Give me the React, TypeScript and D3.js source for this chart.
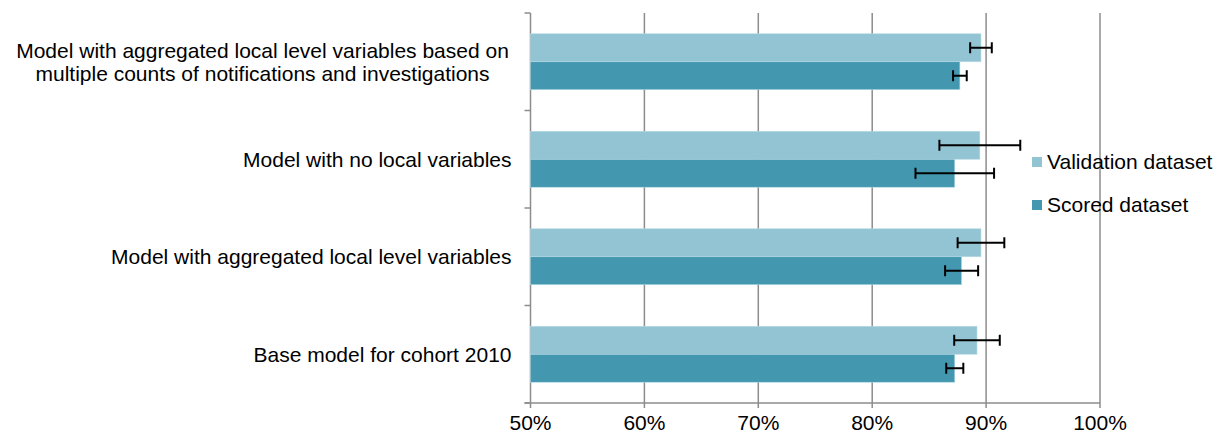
import React from 'react';
import * as d3 from 'd3';

const categories = [
  'Model with aggregated local level variables based on|multiple counts of notifications and investigations',
  'Model with no local variables',
  'Model with aggregated local level variables',
  'Base model for cohort 2010',
];
const validation = [89.55, 89.45, 89.55, 89.2];
const validationErr = [0.95, 3.55, 2.05, 2.0];
const scored = [87.7, 87.25, 87.85, 87.25];
const scoredErr = [0.6, 3.45, 1.45, 0.75];
const xTicks = [50, 60, 70, 80, 90, 100];
const seriesNames = ['Validation dataset', 'Scored dataset'];
const colors = ['#93c4d4', '#4398b0'];

const W = 1228;
const H = 439;
const margin = { top: 13, right: 128, bottom: 36, left: 530.5 };
const font = 'Arial, "Liberation Sans", sans-serif';
const fs = 21;

export default function App() {
  const innerW = W - margin.left - margin.right;
  const innerH = H - margin.top - margin.bottom;
  const x = d3.scaleLinear().domain([50, 100]).range([0, innerW]);
  const y = d3.scaleBand<number>().domain(d3.range(categories.length)).range([0, innerH]).paddingInner(0.426).paddingOuter(0.213);
  const sub = d3.scaleBand<number>().domain([0, 1]).range([0, y.bandwidth()]);
  const series = [
    { vals: validation, errs: validationErr },
    { vals: scored, errs: scoredErr },
  ];
  const step = innerH / categories.length;
  const gridColor = '#8c8c8c';

  return (
    <svg width={W} height={H} style={{ position: 'absolute', left: 0, top: 0 }} fontFamily={font}>
      <g transform={`translate(${margin.left},${margin.top})`}>
        {xTicks.slice(1).map((t) => (
          <line key={t} x1={x(t)} x2={x(t)} y1={0} y2={innerH + 5} stroke={gridColor} strokeWidth={1.5} />
        ))}
        <line x1={x(50)} x2={x(50)} y1={0} y2={innerH + 5} stroke={gridColor} strokeWidth={1.5} />
        <line x1={-6} x2={x(100)} y1={innerH} y2={innerH} stroke={gridColor} strokeWidth={1.5} />
        {d3.range(categories.length + 1).map((i) => (
          <line key={i} x1={-6} x2={0} y1={i * step} y2={i * step} stroke={gridColor} strokeWidth={1.5} />
        ))}
        {categories.map((c, i) =>
          series.map((s, j) => {
            const y0 = (y(i) ?? 0) + (sub(j) ?? 0);
            const h = sub.bandwidth();
            const cy = y0 + h / 2;
            const lo = x(s.vals[i] - s.errs[i]);
            const hi = x(s.vals[i] + s.errs[i]);
            return (
              <g key={`${i}-${j}`}>
                <rect x={0} y={y0} width={x(s.vals[i])} height={h} fill={colors[j]} stroke="#b8dbe6" strokeWidth={0.6} />
                <line x1={lo} x2={hi} y1={cy} y2={cy} stroke="#000" strokeWidth={2} />
                <line x1={lo} x2={lo} y1={cy - 5.5} y2={cy + 5.5} stroke="#000" strokeWidth={2} />
                <line x1={hi} x2={hi} y1={cy - 5.5} y2={cy + 5.5} stroke="#000" strokeWidth={2} />
              </g>
            );
          })
        )}
        {categories.map((c, i) => {
          const lines = c.split('|');
          const cy = (y(i) ?? 0) + y.bandwidth() / 2;
          if (lines.length === 1) {
            return (
              <text key={i} x={-19} y={cy} dy="0.35em" textAnchor="end" fontSize={fs} fill="#000">
                {c}
              </text>
            );
          }
          return (
            <text key={i} x={-268} y={cy} textAnchor="middle" fontSize={fs} fill="#000">
              {lines.map((l, k) => (
                <tspan key={k} x={-268} y={cy + (k - (lines.length - 1) / 2) * 23} dy="0.35em">
                  {l}
                </tspan>
              ))}
            </text>
          );
        })}
        {xTicks.map((t) => (
          <text key={t} x={x(t)} y={innerH + 27} textAnchor="middle" fontSize={fs} fill="#000">
            {t}%
          </text>
        ))}
      </g>
      {seriesNames.map((n, j) => (
        <g key={n} transform={`translate(1032,${162 + j * 43})`}>
          <rect x={0} y={-5} width={10} height={10} fill={colors[j]} />
          <text x={15} y={0} dy="0.35em" fontSize={fs} fill="#000">
            {n}
          </text>
        </g>
      ))}
    </svg>
  );
}
